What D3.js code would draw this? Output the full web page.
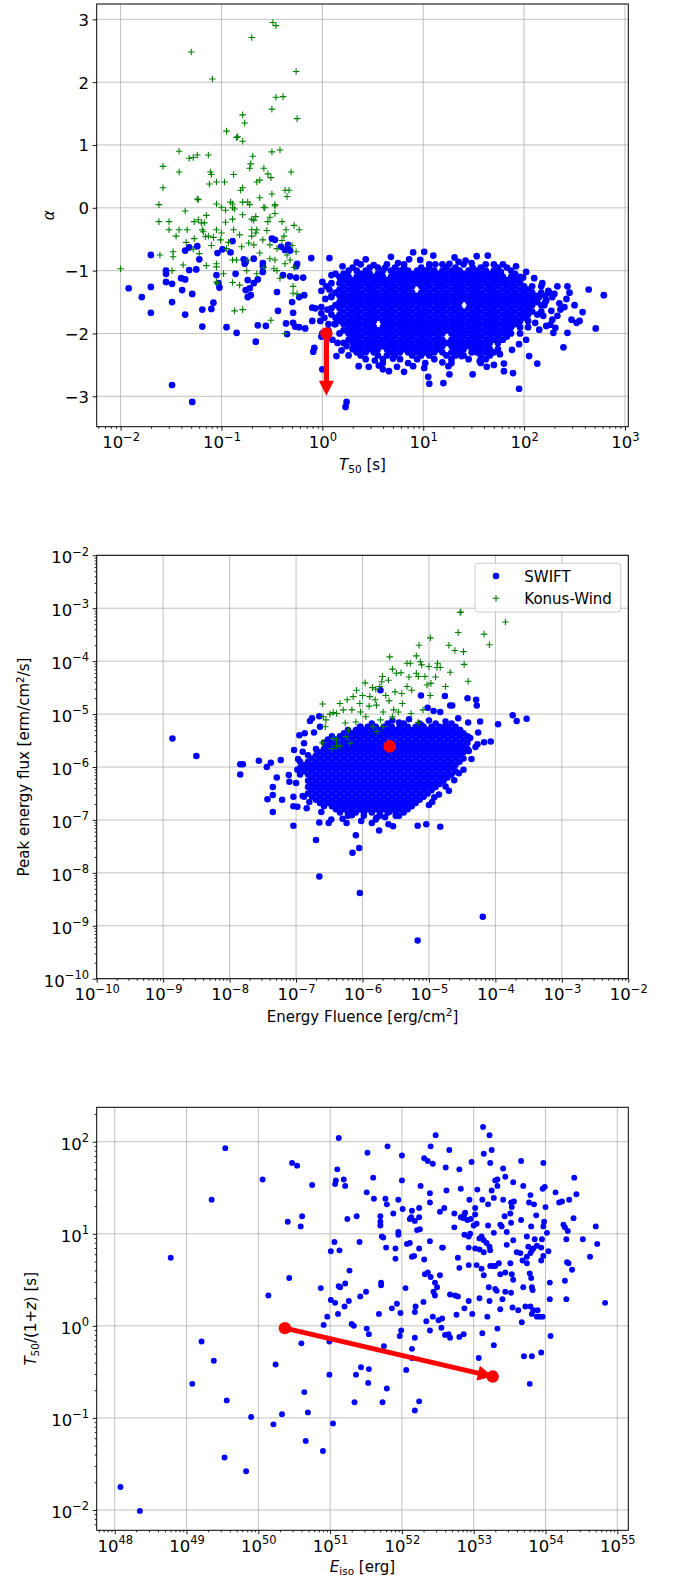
<!DOCTYPE html>
<html>
<head>
<meta charset="utf-8">
<script src="https://cdn.jsdelivr.net/npm/d3@7"></script>
<style>
  body { margin: 0; background: #fff; }
  svg { display: block; }
</style>
</head>
<body>
<svg id="canvas" width="680" height="1577"></svg>
<script>
// ---------------- data ----------------
// panel 1 : [log10 T50, alpha]
const swiftShortP1 = [
  [-1.70,-0.75],[-1.36,-0.68],[-1.32,-0.63],[-1.24,-0.61],[-1.22,-0.82],[-1.04,-0.72],[-0.99,-0.66],[-0.91,-0.71],[-0.89,-0.53],
  [-0.78,-0.82],[-0.76,-0.86],[-0.77,-0.89],[-0.68,-0.81],[-0.59,-0.88],[-0.59,-0.93],[-0.50,-0.49],[-0.47,-0.51],[-0.41,-0.62],
  [-0.37,-0.67],[-0.34,-0.59],[-0.32,-0.68],[-0.25,-0.89],[-0.26,-0.93],[-0.11,-0.80],[0.07,-0.80],
  [-1.55,-1.00],[-1.55,-1.05],[-1.55,-1.18],[-1.92,-1.28],[-1.79,-1.42],[-1.70,-1.26],[-1.70,-1.67],[-1.49,-1.21],[-1.49,-1.50],
  [-1.40,-1.12],[-1.36,-1.14],[-1.39,-1.31],[-1.32,-0.99],[-1.25,-0.98],[-1.29,-1.37],[-1.36,-1.70],[-1.19,-1.62],[-1.19,-1.89],
  [-1.10,-1.61],[-1.08,-1.51],[-1.05,-1.07],[-1.03,-1.20],[-1.02,-1.27],[-0.86,-1.05],[-0.74,-1.15],[-0.76,-1.31],[-0.74,-1.42],
  [-0.71,-1.39],[-0.72,-1.28],[-0.68,-1.20],[-0.64,-1.14],[-0.59,-1.02],[-0.95,-1.90],[-0.85,-1.99],[-0.64,-1.87],[-0.56,-1.88],
  [-0.66,-2.13],[-0.45,-1.34],[-0.44,-1.64],[-0.39,-1.07],[-0.32,-1.09],[-0.26,-1.11],[-0.36,-1.84],[-0.35,-2.01],[-0.29,-1.83],
  [-0.27,-1.89],[-0.30,-1.50],[-0.29,-1.67],[-0.23,-1.42],[-0.23,-1.90],[-0.19,-1.11],[-0.18,-1.39],[-0.17,-1.92],[-0.10,-1.59],
  [-0.07,-1.60],[-0.10,-1.80],[-0.02,-1.80],[-0.01,-1.58],[-0.01,-1.68],[-0.01,-1.32],[0.00,-1.18],[0.07,-1.30],[0.09,-1.42],
  [0.09,-1.07],[0.06,-1.85],[0.12,-1.85],[-0.08,-2.23],[-0.09,-2.29],[0.00,-2.57],[0.14,-2.36],[-1.49,-2.82],[-1.29,-3.09],
  [0.23,-3.17],[0.24,-3.09],[0.00,-2.00],[-0.01,-2.05]
];
const swiftLongEdgeP1 = [
  [0.90,-0.71],[1.01,-0.70],[0.51,-0.91],[0.62,-0.96],[1.26,-0.89],[1.35,-0.86],[1.42,-0.84],[1.53,-0.77],[1.77,-1.02],
  [1.99,-1.11],[2.10,-1.12],[2.33,-1.25],[2.43,-1.25],[2.45,-1.35],[2.64,-1.30],[2.79,-1.39],[2.71,-1.92],[2.55,-1.80],
  [2.52,-1.83],[2.43,-1.99],[2.39,-2.22],[2.29,-1.99],[2.26,-1.86],[2.13,-2.48],[2.05,-2.36],[1.95,-2.88],[1.89,-2.63],
  [1.80,-2.60],[1.80,-2.48],[1.63,-2.53],[1.56,-2.44],[1.49,-2.65],[1.20,-2.79],[1.06,-2.80],[1.05,-2.69],[1.01,-2.55],
  [1.26,-2.65],[0.81,-2.61],[0.74,-2.53],[0.66,-2.60],[0.46,-2.53],[0.36,-2.52],[0.56,-2.51],[0.26,-2.35],[0.19,-2.27],
  [2.15,-1.42],[2.22,-1.47],[2.28,-1.42],[2.35,-1.52],[2.36,-1.62],[2.28,-1.78],[2.22,-1.88],[2.15,-1.94],[2.31,-1.91],[2.47,-1.78],
  [0.20,-0.93],[0.43,-0.82],[0.68,-0.78],[0.75,-0.88],[0.97,-0.83],[1.10,-0.76],[1.31,-0.79],[1.64,-0.76],[1.70,-0.90],
  [1.92,-0.93],[2.02,-1.02],[0.34,-0.87],[0.86,-0.82],[1.12,-0.90],[1.48,-0.88],
  [0.24,-2.20],[0.52,-2.43],[0.70,-2.40],[1.19,-2.46],[1.38,-2.36],[1.48,-2.30],[1.76,-2.33],[1.88,-2.26],[1.95,-2.17],
  [2.02,-2.10],[0.60,-2.57],[1.25,-2.52],[1.70,-2.50],[0.90,-2.52],
  [2.18,-1.20],[2.24,-1.32],[2.30,-1.37],[2.20,-1.55],[2.27,-1.64],[2.40,-1.58],[2.33,-1.72],[2.19,-1.72],[2.11,-1.83],
  [2.42,-1.45],[2.50,-1.55],[2.58,-1.66],
  [0.03,-1.45],[0.05,-1.62],[0.02,-1.75],[0.06,-1.95],[0.10,-2.10],[0.04,-1.25],[0.15,-2.15]
];
// dense core, one row per alpha level: [alpha, log10 T50, log10 T50, ...]
const swiftLongRowsP1 = [
  [-0.90,0.38,0.64,0.81,1.06,1.19,1.40,1.62,1.79],
  [-0.95,0.30,0.47,0.55,0.72,0.81,0.98,1.06,1.23,1.32,1.49,1.57,1.74,1.83],
  [-1.00,0.26,0.34,0.43,0.60,0.68,0.77,0.85,0.94,1.02,1.11,1.19,1.28,1.36,1.45,1.53,1.62,1.70,1.87],
  [-1.05,0.13,0.21,0.38,0.47,0.55,0.72,0.81,0.89,0.98,1.06,1.15,1.23,1.32,1.40,1.49,1.57,1.66,1.74,1.91],
  [-1.10,0.17,0.26,0.34,0.43,0.51,0.60,0.68,0.77,0.85,0.94,1.02,1.11,1.19,1.28,1.36,1.45,1.53,1.62,1.70,1.79,1.87,1.96],
  [-1.15,0.21,0.30,0.38,0.47,0.55,0.64,0.72,0.81,0.89,0.98,1.06,1.15,1.23,1.32,1.40,1.49,1.57,1.66,1.74,1.83,1.91],
  [-1.20,0.09,0.17,0.26,0.34,0.43,0.51,0.60,0.68,0.77,0.85,0.94,1.02,1.11,1.19,1.28,1.36,1.45,1.53,1.62,1.70,1.79,1.87,1.96],
  [-1.25,0.21,0.30,0.38,0.47,0.55,0.64,0.72,0.81,0.89,0.98,1.06,1.15,1.23,1.32,1.40,1.49,1.57,1.66,1.74,1.83,1.91,2.00,2.08,2.17],
  [-1.30,0.17,0.26,0.34,0.43,0.51,0.60,0.68,0.77,0.85,1.02,1.11,1.19,1.28,1.36,1.45,1.53,1.62,1.70,1.79,1.87,1.96,2.04],
  [-1.35,0.13,0.21,0.30,0.38,0.47,0.55,0.64,0.72,0.81,0.89,0.98,1.06,1.15,1.23,1.32,1.40,1.49,1.57,1.66,1.74,1.83,1.91,2.00,2.08,2.17,2.25],
  [-1.40,0.09,0.17,0.26,0.34,0.43,0.51,0.60,0.68,0.77,0.85,0.94,1.02,1.11,1.19,1.28,1.36,1.45,1.53,1.62,1.70,1.79,1.87,1.96,2.04,2.13,2.21],
  [-1.45,0.21,0.30,0.38,0.47,0.55,0.64,0.72,0.81,0.89,0.98,1.06,1.15,1.23,1.32,1.40,1.49,1.57,1.66,1.74,1.83,1.91,2.00,2.08],
  [-1.50,0.17,0.26,0.34,0.43,0.51,0.60,0.68,0.77,0.85,0.94,1.02,1.11,1.19,1.28,1.36,1.45,1.53,1.62,1.70,1.79,1.87,1.96,2.04,2.13,2.21],
  [-1.55,0.13,0.21,0.30,0.38,0.47,0.55,0.64,0.72,0.81,0.89,0.98,1.06,1.15,1.23,1.32,1.49,1.57,1.66,1.74,1.83,1.91,2.00,2.08,2.17],
  [-1.60,0.09,0.17,0.26,0.34,0.43,0.51,0.60,0.68,0.77,0.85,0.94,1.02,1.11,1.19,1.28,1.36,1.45,1.53,1.62,1.70,1.79,1.87,1.96,2.04],
  [-1.65,0.21,0.30,0.38,0.47,0.55,0.64,0.72,0.81,0.89,0.98,1.06,1.15,1.23,1.32,1.40,1.49,1.57,1.66,1.74,1.83,1.91,2.00,2.08,2.17],
  [-1.70,0.09,0.17,0.26,0.34,0.43,0.51,0.60,0.68,0.77,0.85,0.94,1.02,1.11,1.19,1.28,1.36,1.45,1.53,1.62,1.70,1.79,1.87,1.96,2.04,2.13],
  [-1.75,0.13,0.21,0.30,0.38,0.47,0.55,0.64,0.72,0.81,0.89,0.98,1.06,1.15,1.23,1.32,1.40,1.49,1.57,1.66,1.74,1.83,1.91,2.00],
  [-1.80,0.17,0.26,0.34,0.43,0.51,0.60,0.68,0.77,0.85,0.94,1.02,1.11,1.19,1.28,1.36,1.45,1.53,1.62,1.70,1.79,1.87,1.96,2.04],
  [-1.85,0.13,0.21,0.30,0.38,0.47,0.64,0.72,0.81,0.89,0.98,1.06,1.15,1.23,1.32,1.40,1.49,1.57,1.66,1.74,1.83,1.91],
  [-1.90,0.26,0.34,0.43,0.51,0.60,0.68,0.77,0.85,0.94,1.02,1.11,1.19,1.28,1.36,1.45,1.53,1.62,1.70,1.79,1.87,1.96,2.04],
  [-1.95,0.21,0.30,0.38,0.47,0.55,0.64,0.72,0.81,0.89,0.98,1.06,1.15,1.23,1.32,1.40,1.49,1.57,1.66,1.74,1.83],
  [-2.00,0.17,0.26,0.34,0.43,0.51,0.60,0.68,0.77,0.85,0.94,1.02,1.11,1.19,1.28,1.36,1.45,1.53,1.62,1.70,1.79,1.87,1.96],
  [-2.05,0.30,0.38,0.47,0.55,0.64,0.72,0.81,0.89,0.98,1.06,1.15,1.32,1.40,1.49,1.57,1.66,1.74,1.83],
  [-2.10,0.26,0.34,0.43,0.51,0.60,0.68,0.77,0.85,0.94,1.02,1.11,1.19,1.28,1.36,1.45,1.53,1.62,1.70,1.79],
  [-2.15,0.21,0.30,0.38,0.47,0.55,0.64,0.72,0.81,0.89,0.98,1.06,1.15,1.23,1.32,1.40,1.49,1.57,1.66,1.74],
  [-2.20,0.34,0.43,0.51,0.60,0.68,0.77,0.85,0.94,1.02,1.11,1.19,1.28,1.36,1.45,1.53,1.62],
  [-2.25,0.30,0.38,0.47,0.55,0.64,0.72,0.81,0.89,0.98,1.06,1.15,1.32,1.40,1.49,1.57,1.66,1.74],
  [-2.30,0.34,0.43,0.51,0.68,0.77,0.85,0.94,1.02,1.11,1.19,1.28,1.36,1.53,1.62,1.70],
  [-2.35,0.38,0.55,0.64,0.72,0.89,0.98,1.06,1.23,1.32,1.40,1.57,1.66],
  [-2.41,0.43,0.60,0.77,0.94,1.11,1.28,1.45,1.62],
  [-2.47,0.60,0.85,1.02,1.28,1.57]
];
const konusP1 = [
  [-0.49,2.95],[-0.46,2.90],[-0.70,2.71],[-1.30,2.48],[-0.26,2.17],[-1.09,2.05],[-0.46,1.76],[-0.39,1.77],[-0.50,1.57],
  [-0.79,1.48],[-0.77,1.35],[-0.25,1.42],[-0.95,1.22],[-0.85,1.12],[-0.84,1.13],[-0.79,1.06],[-1.42,0.90],[-1.24,0.84],
  [-1.32,0.79],[-1.28,0.80],[-1.13,0.84],[-0.69,0.82],[-0.50,0.89],[-0.42,0.92],[-1.58,0.66],[-1.42,0.57],[-1.11,0.57],
  [-1.10,0.53],[-0.71,0.70],[-0.72,0.63],[-0.58,0.63],[-0.54,0.54],[-0.51,0.48],[-0.31,0.57],[-0.88,0.53],[-1.58,0.32],
  [-1.12,0.38],[-1.05,0.41],[-0.97,0.41],[-0.65,0.41],[-0.62,0.44],[-0.79,0.32],[-0.81,0.28],[-0.37,0.28],[-0.33,0.28],
  [-0.35,0.18],[-1.24,0.14],[-1.23,0.13],[-0.62,0.16],[-0.50,0.22],[-1.62,0.05],[-1.05,0.06],[-0.91,0.09],[-0.89,0.06],
  [-0.79,0.09],[-0.74,0.09],[-0.72,0.05],[-0.47,0.05],[-0.47,0.03],[-0.58,0.01],[-0.57,0.00],[-0.89,0.00],[-0.87,-0.02],
  [-1.00,0.01],[-0.96,-0.04],[-1.36,-0.05],[-0.79,-0.11],[-1.15,-0.12],[-0.70,-0.18],[-0.66,-0.14],[-0.52,-0.15],[-0.47,-0.09],
  [-1.62,-0.22],[-1.52,-0.22],[-1.27,-0.22],[-1.23,-0.19],[-1.20,-0.24],[-1.17,-0.24],[-0.96,-0.23],[-0.89,-0.18],[-0.68,-0.20],
  [-0.54,-0.22],[-0.40,-0.22],[-0.28,-0.28],
  [-1.52,-0.35],[-1.42,-0.35],[-1.34,-0.35],[-1.19,-0.35],[-1.05,-0.35],[-0.88,-0.35],[-0.70,-0.35],[-0.65,-0.35],[-0.36,-0.35],[-0.23,-0.35],
  [-1.27,-0.49],[-1.16,-0.46],[-1.13,-0.45],[-1.08,-0.47],[-1.01,-0.51],[-0.82,-0.43],[-0.73,-0.56],[-0.68,-0.59],[-0.59,-0.51],
  [-0.52,-0.59],[-0.38,-0.45],[-1.28,-0.66],[-1.22,-0.73],[-1.48,-0.70],[-1.61,-0.75],[-1.48,-0.78],[-1.38,-0.91],[-1.15,-0.92],
  [-1.05,-0.89],[-1.05,-0.94],[-0.89,-0.83],[-0.85,-0.83],[-0.74,-0.83],[-0.52,-0.81],[-0.47,-0.83],[-0.37,-0.89],[-0.32,-0.83],
  [-0.28,-0.95],[-0.48,-0.97],[-2.00,-0.97],[-1.49,-1.00],[-1.05,-1.18],[-1.04,-1.20],[-0.89,-1.19],[-0.82,-1.23],[-0.42,-1.12],
  [-0.29,-1.25],[-0.29,-1.36],[-0.25,-1.37],[-0.87,-1.64],[-0.79,-1.62],[-0.51,-1.79],[-0.37,-2.00],
  [-1.18,-0.38],[-1.00,-0.40],[-0.93,-0.55],[-0.80,-0.62],[-0.66,-0.40],[-0.55,-0.36],[-0.45,-0.65],[-0.40,-0.52],[-0.30,-0.60],
  [-0.26,-0.70],[-0.95,-0.65],[-1.10,-0.60],[-1.35,-0.55],[-1.45,-0.45],[-0.62,-0.72],[-0.70,-0.45],[-0.35,-0.75],[-0.58,-0.95],
  [-0.98,-1.05],[-0.75,-1.00],[-0.45,-1.00],[-0.65,-1.05]
];
const p1Special = [0.04, -2.0];     // [log10 T50, alpha]
const p1SpecialTo = -2.99;          // arrow end (alpha)

// panel 2 : [log10 fluence, log10 peak flux]
const swiftOuterP2 = [
  [-8.86,-5.46],[-8.50,-5.79],[-7.84,-5.95],[-7.80,-5.95],[-7.84,-6.14],[-7.56,-5.88],[-7.44,-6.00],[-7.38,-5.92],[-7.23,-5.87],
  [-7.29,-6.20],[-7.11,-6.15],[-7.03,-5.68],[-6.90,-5.71],[-6.88,-5.55],[-6.95,-5.40],[-6.87,-5.36],[-6.79,-5.13],[-6.76,-5.08],
  [-6.65,-5.04],[-6.64,-5.24],[-6.73,-5.35],
  [-7.43,-6.61],[-7.35,-6.38],[-7.35,-6.53],[-7.35,-6.85],[-7.21,-6.62],[-7.10,-6.28],[-7.04,-6.56],[-7.04,-6.74],[-6.98,-6.75],
  [-7.04,-7.11],[-6.88,-6.56],[-6.84,-6.78],[-6.70,-7.38],[-6.65,-7.05],[-6.65,-8.07],[-6.62,-6.85],[-6.51,-7.06],[-6.47,-6.99],
  [-6.24,-7.06],[-6.16,-6.91],[-6.10,-7.29],[-6.15,-7.62],[-6.05,-7.53],[-6.04,-8.38],[-5.86,-7.06],[-5.79,-6.96],[-5.75,-7.20],
  [-5.60,-6.85],[-5.61,-7.08],[-5.54,-7.12],[-5.30,-6.72],[-5.17,-7.11],[-5.04,-7.08],[-4.83,-7.13],[-5.00,-6.72],[-4.92,-6.57],
  [-4.75,-6.37],[-5.17,-9.28],[-4.19,-8.83],
  [-5.73,-4.55],[-5.12,-4.65],[-4.76,-4.66],[-5.02,-4.88],[-4.93,-4.94],[-4.83,-4.96],[-4.68,-4.84],[-4.65,-4.84],[-4.42,-4.70],
  [-4.29,-4.73],[-4.28,-4.84],[-3.96,-5.19],[-3.74,-5.02],[-3.68,-5.13],[-3.53,-5.09],[-4.07,-5.52],[-4.17,-5.53],[-4.27,-5.57],
  [-4.26,-5.35],[-4.23,-5.14],[-4.41,-5.16],[-4.56,-5.08],[-4.53,-5.30],[-4.76,-5.24],[-4.83,-5.30],[-4.98,-5.43],[-5.11,-5.21],
  [-5.45,-5.16],[-5.84,-5.36],[-5.94,-5.43],[-6.03,-5.24],
  [-6.30,-6.98],[-6.02,-7.02],[-5.80,-6.99],[-5.66,-6.95],[-5.45,-6.92],[-4.40,-5.70],[-4.36,-5.85],[-4.48,-6.05],[-4.62,-6.25],
  [-4.70,-6.45],[-4.85,-6.52],[-4.38,-5.45],[-4.30,-5.62],[-4.55,-6.12],[-4.95,-6.66],[-6.98,-6.05],[-7.00,-6.30],[-6.97,-5.85],
  [-6.90,-6.55],[-6.80,-6.66],[-5.30,-5.10],[-5.00,-5.12],[-4.75,-5.14],[-5.55,-5.12]
];
// dense core, one row per flux level: [log10 flux, log10 fluence, ...]
const swiftCoreRowsP2 = [
  [-5.18,-5.86,-5.62,-5.38,-5.14,-4.90,-4.66],
  [-5.24,-6.04,-5.92,-5.80,-5.68,-5.56,-5.44,-5.32,-5.20,-5.08,-4.96,-4.84,-4.72,-4.60],
  [-5.30,-6.22,-6.10,-5.98,-5.86,-5.74,-5.62,-5.50,-5.38,-5.26,-5.14,-5.02,-4.90,-4.78,-4.66,-4.54],
  [-5.36,-6.28,-6.16,-6.04,-5.92,-5.80,-5.68,-5.56,-5.44,-5.32,-5.20,-5.08,-4.96,-4.84,-4.72,-4.60,-4.48],
  [-5.42,-6.46,-6.34,-6.22,-6.10,-5.98,-5.86,-5.74,-5.62,-5.50,-5.38,-5.26,-5.14,-5.02,-4.90,-4.78,-4.66,-4.54,-4.42],
  [-5.48,-6.52,-6.40,-6.28,-6.16,-6.04,-5.92,-5.80,-5.68,-5.56,-5.44,-5.32,-5.20,-5.08,-4.96,-4.84,-4.72,-4.60,-4.48],
  [-5.54,-6.58,-6.46,-6.34,-6.22,-6.10,-5.98,-5.86,-5.74,-5.62,-5.50,-5.38,-5.26,-5.14,-5.02,-4.90,-4.78,-4.66,-4.54,-4.42],
  [-5.60,-6.52,-6.40,-6.28,-6.16,-6.04,-5.92,-5.80,-5.68,-5.56,-5.44,-5.32,-5.20,-5.08,-4.96,-4.84,-4.72,-4.60,-4.48],
  [-5.66,-6.70,-6.58,-6.46,-6.34,-6.22,-6.10,-5.98,-5.86,-5.74,-5.62,-5.50,-5.38,-5.26,-5.14,-5.02,-4.90,-4.78,-4.66,-4.54,-4.42],
  [-5.72,-6.64,-6.52,-6.40,-6.28,-6.16,-6.04,-5.92,-5.80,-5.68,-5.56,-5.44,-5.32,-5.20,-5.08,-4.96,-4.84,-4.72,-4.60,-4.48],
  [-5.78,-6.82,-6.70,-6.58,-6.46,-6.34,-6.22,-6.10,-5.98,-5.86,-5.74,-5.62,-5.50,-5.38,-5.26,-5.14,-5.02,-4.90,-4.78,-4.66,-4.54],
  [-5.84,-6.76,-6.64,-6.52,-6.40,-6.28,-6.16,-6.04,-5.92,-5.80,-5.68,-5.56,-5.44,-5.32,-5.20,-5.08,-4.96,-4.84,-4.72,-4.60,-4.48],
  [-5.90,-6.94,-6.82,-6.70,-6.58,-6.46,-6.34,-6.22,-6.10,-5.98,-5.86,-5.74,-5.62,-5.50,-5.38,-5.26,-5.14,-5.02,-4.90,-4.78,-4.66,-4.54],
  [-5.96,-6.88,-6.76,-6.64,-6.52,-6.40,-6.28,-6.16,-6.04,-5.92,-5.80,-5.68,-5.56,-5.44,-5.32,-5.20,-5.08,-4.96,-4.84,-4.72,-4.60],
  [-6.02,-6.94,-6.82,-6.70,-6.58,-6.46,-6.34,-6.22,-6.10,-5.98,-5.86,-5.74,-5.62,-5.50,-5.38,-5.26,-5.14,-5.02,-4.90,-4.78,-4.66],
  [-6.08,-6.88,-6.76,-6.64,-6.52,-6.40,-6.28,-6.16,-6.04,-5.92,-5.80,-5.68,-5.56,-5.44,-5.32,-5.20,-5.08,-4.96,-4.84,-4.72,-4.60],
  [-6.14,-6.94,-6.82,-6.70,-6.58,-6.46,-6.34,-6.22,-6.10,-5.98,-5.86,-5.74,-5.62,-5.50,-5.38,-5.26,-5.14,-5.02,-4.90,-4.78,-4.66],
  [-6.20,-6.76,-6.64,-6.52,-6.40,-6.28,-6.16,-6.04,-5.92,-5.80,-5.68,-5.56,-5.44,-5.32,-5.20,-5.08,-4.96,-4.84,-4.72],
  [-6.26,-6.82,-6.70,-6.58,-6.46,-6.34,-6.22,-6.10,-5.98,-5.86,-5.74,-5.62,-5.50,-5.38,-5.26,-5.14,-5.02,-4.90,-4.78],
  [-6.32,-6.76,-6.64,-6.52,-6.40,-6.28,-6.16,-6.04,-5.92,-5.80,-5.68,-5.56,-5.44,-5.32,-5.20,-5.08,-4.96,-4.84],
  [-6.38,-6.82,-6.70,-6.58,-6.46,-6.34,-6.22,-6.10,-5.98,-5.86,-5.74,-5.62,-5.50,-5.38,-5.26,-5.14,-5.02,-4.90],
  [-6.44,-6.76,-6.64,-6.52,-6.40,-6.28,-6.16,-6.04,-5.92,-5.80,-5.68,-5.56,-5.44,-5.32,-5.20,-5.08,-4.96],
  [-6.50,-6.82,-6.70,-6.58,-6.46,-6.34,-6.22,-6.10,-5.98,-5.86,-5.74,-5.62,-5.50,-5.38,-5.26,-5.14,-5.02],
  [-6.56,-6.76,-6.64,-6.52,-6.40,-6.28,-6.16,-6.04,-5.92,-5.80,-5.68,-5.56,-5.44,-5.32,-5.20,-5.08],
  [-6.62,-6.70,-6.58,-6.46,-6.34,-6.22,-6.10,-5.98,-5.86,-5.74,-5.62,-5.50,-5.38,-5.26,-5.14],
  [-6.68,-6.64,-6.52,-6.40,-6.28,-6.16,-6.04,-5.92,-5.80,-5.68,-5.56,-5.44,-5.32,-5.20],
  [-6.74,-6.58,-6.46,-6.34,-6.22,-6.10,-5.98,-5.86,-5.74,-5.62,-5.50,-5.38,-5.26],
  [-6.80,-6.40,-6.28,-6.16,-6.04,-5.92,-5.80,-5.68,-5.56,-5.44,-5.32],
  [-6.86,-6.34,-6.22,-6.10,-5.98,-5.86,-5.74,-5.62,-5.50,-5.38],
  [-6.92,-6.22,-5.98,-5.74,-5.50]
];
const konusP2 = [
  [-4.52,-3.07],[-4.53,-3.08],[-3.85,-3.26],[-4.56,-3.46],[-4.17,-3.49],[-4.09,-3.69],[-4.98,-3.56],[-5.15,-3.70],[-4.70,-3.70],
  [-4.61,-3.80],[-4.48,-3.82],[-5.59,-3.92],[-5.19,-3.90],[-5.33,-4.04],[-5.28,-4.04],[-5.13,-4.01],[-5.11,-4.07],[-4.87,-4.04],
  [-4.88,-4.12],[-4.83,-4.12],[-4.47,-4.06],[-5.55,-4.15],[-5.49,-4.23],[-5.42,-4.22],[-5.19,-4.23],[-5.16,-4.29],[-5.06,-4.29],
  [-4.68,-4.21],[-5.70,-4.29],[-5.61,-4.36],[-5.96,-4.41],[-4.41,-4.38],[-4.75,-4.48],[-4.98,-4.65],[-4.97,-4.42],[-5.03,-4.45],
  [-5.33,-4.48],[-5.26,-4.55],[-5.41,-4.61],[-5.51,-4.58],[-5.71,-4.39],[-5.74,-4.48],[-5.80,-4.53],[-6.09,-4.55],[-6.14,-4.67],
  [-6.23,-4.73],[-6.34,-4.80],[-5.89,-4.67],[-5.81,-4.73],[-5.79,-4.83],[-6.04,-4.80],[-6.03,-4.96],[-6.16,-4.92],[-6.29,-4.92],
  [-5.69,-4.96],[-5.53,-4.92],[-5.46,-4.96],[-5.27,-4.99],[-5.09,-4.92],[-5.16,-5.16],[-5.73,-5.11],[-5.84,-5.24],[-5.78,-5.33],
  [-5.69,-5.24],[-6.26,-5.17],[-6.21,-5.30],[-6.25,-5.43],[-6.19,-5.55],[-6.34,-5.60],
  [-6.60,-4.81],[-6.44,-4.97],[-6.59,-5.05],[-6.55,-5.11],[-6.49,-5.00],[-6.39,-4.99],[-6.56,-5.24],[-6.60,-5.54],[-6.44,-5.46],
  [-6.39,-5.49],[-6.39,-5.60],[-6.46,-5.65],
  [-5.90,-4.85],[-5.60,-4.75],[-5.40,-4.80],[-5.95,-5.05],[-6.10,-5.15],[-5.55,-5.05],[-5.85,-4.50],[-5.30,-4.30],[-5.00,-4.10],
  [-4.90,-4.30],[-5.65,-4.65],[-6.00,-4.65]
];
const p2Special = [-5.59, -5.61];   // [log10 fluence, log10 flux]

// panel 3 : [log10 Eiso, log10 T50/(1+z)]
const swiftP3 = [
  [49.54,1.93],[49.35,1.37],[48.78,0.74],[50.06,1.59],[50.47,1.77],[50.54,1.74],[50.75,1.53],[50.41,1.13],[50.61,1.19],
  [50.59,1.08],[50.43,0.52],[50.14,0.33],[50.87,0.41],[51.01,0.28],[51.07,0.25],[50.96,0.10],[50.91,0.01],[51.11,0.13],
  [51.12,0.43],[51.12,2.04],[51.10,1.70],[51.08,1.58],[51.07,1.54],[51.06,0.91],[51.01,0.81],[51.13,0.82],
  [49.21,-0.17],[49.38,-0.38],[49.08,-0.63],[49.56,-0.81],[49.90,-0.99],[49.53,-1.43],[49.83,-1.58],[48.08,-1.75],[48.35,-2.01],
  [50.60,-0.19],[50.24,-0.42],[50.64,-0.72],[50.69,-0.94],[50.33,-0.96],[50.21,-1.07],[50.66,-1.25],[50.90,-1.36],[50.99,-0.53],
  [50.99,-0.17],[51.04,-1.06],
  [53.13,2.16],[52.47,2.07],[53.22,2.07],[51.52,1.88],[51.80,1.95],[52.00,1.85],[52.40,1.95],[52.66,1.91],[53.14,1.87],
  [53.25,1.91],[52.31,1.82],[52.36,1.79],[52.43,1.76],[52.61,1.72],[52.80,1.70],[52.97,1.78],[53.23,1.77],[53.41,1.71],
  [53.66,1.79],[53.97,1.77],[51.60,1.61],[52.00,1.58],[52.26,1.52],[52.39,1.44],[52.62,1.47],[52.82,1.49],[53.05,1.48],
  [53.25,1.47],[53.30,1.58],[53.33,1.59],[53.33,1.52],[53.44,1.62],[53.55,1.56],[53.69,1.52],[53.96,1.49],[53.99,1.51],
  [54.14,1.45],[54.40,1.61],[54.43,1.43],[54.33,1.37],[54.23,1.35],[54.19,1.34],[51.51,1.45],[51.61,1.38],[51.77,1.38],
  [51.79,1.32],[51.95,1.37],[52.01,1.27],[52.14,1.25],[52.24,1.28],[52.39,1.34],[52.53,1.24],[52.59,1.28],[52.73,1.22],
  [52.82,1.18],[52.87,1.21],[52.94,1.37],[53.02,1.28],[53.02,1.21],[53.12,1.37],[53.20,1.32],[53.28,1.39],[53.41,1.37],
  [53.52,1.34],[53.53,1.29],[53.56,1.35],[53.79,1.42],[53.77,1.34],[53.84,1.32],[53.87,1.20],[54.00,1.29],[51.24,1.16],
  [51.37,1.19],[51.70,1.19],[51.70,1.13],[51.70,1.09],[51.88,1.22],[52.11,1.16],[52.13,1.18],[52.18,1.14],[52.24,1.18],
  [52.21,1.04],[52.25,1.05],[51.95,1.02],[51.95,0.99],[51.72,0.97],[51.74,0.96],[52.39,0.92],[52.56,0.85],[52.73,1.07],
  [52.86,1.17],[52.91,1.15],[52.88,1.23],[52.96,1.16],[53.00,1.09],[53.04,1.11],[52.87,0.99],[52.93,0.97],[52.95,1.00],
  [53.08,0.95],[53.11,0.97],[53.14,0.93],[53.20,1.09],[53.28,1.01],[53.37,1.10],[53.39,1.08],[53.43,1.19],[53.46,1.02],
  [53.51,1.22],[53.52,1.12],[53.55,0.93],[53.66,1.15],[53.74,0.97],[53.80,1.08],[53.85,0.94],[53.95,0.94],[53.97,1.08],
  [53.98,1.13],[54.02,1.01],[54.25,1.10],[54.27,1.07],[54.31,1.03],[54.29,0.94],[54.52,0.94],[54.70,1.08],[54.39,1.17],
  [54.72,0.89],[54.62,0.75],[51.41,0.91],[51.78,0.85],[51.91,0.84],[52.07,0.89],[52.11,0.90],[52.24,0.84],[51.91,0.73],
  [52.14,0.75],[52.17,0.76],[52.31,0.72],[52.57,0.85],[52.78,0.74],[52.80,0.63],[52.93,0.85],[52.93,0.66],[53.02,0.84],
  [53.08,0.83],[53.14,0.80],[53.23,0.82],[53.18,0.90],[53.22,0.86],[53.04,0.66],[53.11,0.62],[53.14,0.55],[53.23,0.65],
  [53.27,0.65],[53.30,0.65],[53.35,0.68],[53.37,0.56],[53.44,0.58],[53.46,0.88],[53.51,0.68],[53.53,0.56],[53.55,0.50],
  [53.60,0.80],[53.65,0.79],[53.68,0.71],[53.74,0.75],[53.76,0.86],[53.79,0.79],[53.81,0.82],[53.83,0.84],[53.88,0.87],
  [53.94,0.85],[54.04,0.81],[53.74,0.68],[53.78,0.57],[53.80,0.52],[53.81,0.42],[53.82,0.39],[53.97,0.76],[53.94,0.71],
  [54.30,0.69],[54.32,0.68],[54.37,0.61],[54.06,0.47],[54.06,0.29],[54.27,0.49],[54.29,0.29],[54.83,0.25],[51.27,0.60],
  [51.21,0.46],[51.14,0.42],[51.71,0.47],[51.71,0.44],[52.05,0.41],[52.32,0.56],[52.36,0.58],[52.40,0.53],[52.46,0.47],
  [52.49,0.42],[52.53,0.55],[52.44,0.37],[52.46,0.33],[52.30,0.26],[52.67,0.34],[52.74,0.33],[52.78,0.32],[52.93,0.27],
  [53.08,0.30],[53.22,0.27],[53.21,0.42],[53.30,0.40],[53.32,0.38],[53.44,0.37],[53.52,0.36],[53.40,0.29],[53.69,0.42],
  [51.42,0.32],[51.50,0.37],[51.26,0.27],[51.20,0.21],[51.68,0.13],[51.86,0.19],[51.93,0.24],[51.98,0.14],[52.19,0.21],
  [52.18,0.15],[52.34,0.05],[52.43,0.10],[52.51,0.06],[52.56,0.08],[52.76,0.12],[52.87,0.19],[52.98,0.13],[53.19,0.10],
  [53.37,0.18],[53.54,0.20],[53.62,0.17],[53.72,0.21],[53.79,0.21],[53.81,0.13],[53.83,0.17],[53.89,0.17],[53.88,0.10],
  [53.92,0.10],[53.96,0.10],[53.67,0.04],[51.30,0.02],[51.33,0.00],[51.51,-0.03],[51.54,-0.09],[51.99,-0.05],[51.97,-0.11],
  [52.18,-0.13],[52.39,-0.05],[52.55,-0.02],[52.60,-0.10],[52.65,-0.09],[52.67,-0.13],[52.80,-0.12],[52.86,-0.09],[53.12,-0.08],
  [53.33,-0.03],[54.07,-0.11],[51.19,1.59],[51.21,1.52],
  [51.75,-0.22],[51.36,-0.53],[51.43,-0.45],[51.54,-0.47],[51.53,-0.62],[51.34,-0.83],[51.73,-0.83],[51.79,-0.68],[52.06,-0.48],
  [52.14,-0.25],[52.14,-0.35],[52.24,-0.82],[52.18,-0.92],[53.28,-0.21],[53.07,-0.35],[53.70,-0.33],[53.81,-0.33],[53.94,-0.29],
  [53.78,-0.63]
];
const p3Special = [[50.37, -0.025], [53.265, -0.551]];   // arrow from -> to

const p1XTickExp = [-2, -1, 0, 1, 2, 3];
const p1YTicks = [-3, -2, -1, 0, 1, 2, 3];
const p2TickExp = [-10, -9, -8, -7, -6, -5, -4, -3, -2];
const p3XTickExp = [48, 49, 50, 51, 52, 53, 54, 55];
const p3YTickExp = [-2, -1, 0, 1, 2];
const legendLabels = ['SWIFT', 'Konus-Wind'];

// ---------------- drawing ----------------
const FONT = '"DejaVu Sans", sans-serif';
const left = 96.7, right = 628.3;
const tickFont = 16.5, supFont = 11.5, labelFont = 15;
const BLUE = '#0000ff', GREEN = '#008000', RED = '#ff0000';

let svg = d3.select('#canvas');
let defs = svg.append('defs');

let pow10 = (v) => Math.pow(10, v);
let rowsToPoints = (rows) => rows.flatMap(r => r.slice(1).map(v => [v, r[0]]));

let minorValues = (scale) => {
  let [a, b] = scale.domain();
  let out = [];
  for (let d = Math.floor(Math.log10(a)); d <= Math.ceil(Math.log10(b)); d++) {
    for (let k = 2; k <= 9; k++) {
      let v = k * Math.pow(10, d);
      if (v >= a && v <= b) out.push(v);
    }
  }
  return out;
};

let expLabel = (sel, d) => {
  let e = Math.round(Math.log10(d));
  sel.text('10');
  sel.append('tspan').attr('dy', -7.6).attr('font-size', supFont)
    .text(e < 0 ? '\u2212' + Math.abs(e) : String(e));
};
let plainLabel = (sel, d) => sel.text(d < 0 ? '\u2212' + Math.abs(d) : String(d));

function makePanel(top, bottom, x, y) {
  x.range([left, right]);
  y.range([bottom, top]);
  let id = 'clip' + Math.round(top);
  defs.append('clipPath').attr('id', id).append('rect')
    .attr('x', left).attr('y', top).attr('width', right - left).attr('height', bottom - top);
  let g = svg.append('g');
  let grid = g.append('g');
  let plot = g.append('g').attr('clip-path', `url(#${id})`);
  let over = g.append('g');
  return { g, grid, plot, over, x, y, top, bottom };
}

function drawGrid(p, xVals, yVals) {
  p.grid.selectAll(null).data(xVals).enter().append('line')
    .attr('x1', d => p.x(d)).attr('x2', d => p.x(d))
    .attr('y1', p.top).attr('y2', p.bottom)
    .attr('stroke', '#b0b0b0').attr('stroke-width', 0.8);
  p.grid.selectAll(null).data(yVals).enter().append('line')
    .attr('y1', d => p.y(d)).attr('y2', d => p.y(d))
    .attr('x1', left).attr('x2', right)
    .attr('stroke', '#b0b0b0').attr('stroke-width', 0.8);
}

function drawAxes(p, xMajor, yMajor, xFmt, yFmt, yLabelShift) {
  let gx = p.over.append('g').attr('transform', `translate(0,${p.bottom})`)
    .attr('font-family', FONT).attr('font-size', tickFont);
  if (p.x.base) {
    gx.append('g').call(d3.axisBottom(p.x).tickValues(minorValues(p.x)).tickSize(2)
      .tickSizeOuter(0).tickFormat(() => ''))
      .call(s => s.select('.domain').remove())
      .call(s => s.selectAll('text').remove());
  }
  gx.append('g').call(d3.axisBottom(p.x).tickValues(xMajor).tickSize(4)
    .tickSizeOuter(0).tickFormat(() => ''))
    .call(s => s.select('.domain').remove())
    .attr('font-family', FONT).attr('font-size', tickFont);
  gx.selectAll('.tick line').attr('stroke-width', 0.9);
  gx.selectAll('.tick text').attr('y', 21.5).attr('dy', null).attr('fill', '#000')
    .each(function (d) { xFmt(d3.select(this), d); });

  let gy = p.over.append('g').attr('transform', `translate(${left},0)`)
    .attr('font-family', FONT).attr('font-size', tickFont);
  if (p.y.base) {
    gy.append('g').call(d3.axisLeft(p.y).tickValues(minorValues(p.y)).tickSize(2)
      .tickSizeOuter(0).tickFormat(() => ''))
      .call(s => s.select('.domain').remove())
      .call(s => s.selectAll('text').remove());
  }
  gy.append('g').call(d3.axisLeft(p.y).tickValues(yMajor).tickSize(4)
    .tickSizeOuter(0).tickFormat(() => ''))
    .call(s => s.select('.domain').remove())
    .attr('font-family', FONT).attr('font-size', tickFont);
  gy.selectAll('.tick line').attr('stroke-width', 0.9);
  gy.selectAll('.tick text').attr('x', -7.6).attr('y', yLabelShift).attr('dy', null).attr('fill', '#000')
    .each(function (d) { yFmt(d3.select(this), d); });

  p.over.append('rect').attr('x', left).attr('y', p.top)
    .attr('width', right - left).attr('height', p.bottom - p.top)
    .attr('fill', 'none').attr('stroke', '#000').attr('stroke-width', 1);
}

function dots(p, data, r, color) {
  p.plot.selectAll(null).data(data).enter().append('circle')
    .attr('cx', d => p.x(d[0])).attr('cy', d => p.y(d[1]))
    .attr('r', r).attr('fill', color);
}

function pluses(p, data, h, color) {
  p.plot.selectAll(null).data(data).enter().append('path')
    .attr('d', d => {
      let x = p.x(d[0]), y = p.y(d[1]);
      return `M${x - h},${y}H${x + h}M${x},${y - h}V${y + h}`;
    })
    .attr('stroke', color).attr('stroke-width', 1.1).attr('fill', 'none');
}

function arrow(p, x0, y0, x1, y1, width, headLen, headHalf) {
  let dx = x1 - x0, dy = y1 - y0, len = Math.hypot(dx, dy);
  let ux = dx / len, uy = dy / len, nx = -uy, ny = ux;
  let bx = x1 - ux * headLen, by = y1 - uy * headLen;
  p.plot.append('line').attr('x1', x0).attr('y1', y0).attr('x2', bx + ux).attr('y2', by + uy)
    .attr('stroke', RED).attr('stroke-width', width);
  p.plot.append('path')
    .attr('d', `M${x1},${y1}L${bx + nx * headHalf},${by + ny * headHalf}L${bx - nx * headHalf},${by - ny * headHalf}Z`)
    .attr('fill', RED);
}

function axisLabel(x, y, rotate, parts, size) {
  let t = svg.append('text').attr('font-family', FONT).attr('font-size', size || labelFont)
    .attr('text-anchor', 'middle').attr('fill', '#000')
    .attr('transform', `translate(${x},${y})` + (rotate ? ' rotate(-90)' : ''));
  parts.forEach(pt => {
    let s = t.append('tspan').text(pt.t);
    if (pt.i) s.attr('font-style', 'italic');
    if (pt.dy) s.attr('dy', pt.dy);
    if (pt.fs) s.attr('font-size', pt.fs);
  });
  return t;
}

// ---- panel 1 ----
let p1 = makePanel(4, 426.7,
  d3.scaleLog().domain([pow10(-2.237), pow10(3.033)]),
  d3.scaleLinear().domain([-3.484, 3.244]));
drawGrid(p1, p1XTickExp.map(pow10), p1YTicks);
let toP1 = (d) => [pow10(d[0]), d[1]];
dots(p1, swiftShortP1.map(toP1), 3.35, BLUE);
dots(p1, swiftLongEdgeP1.map(toP1), 3.35, BLUE);
dots(p1, rowsToPoints(swiftLongRowsP1).map(toP1), 3.35, BLUE);
pluses(p1, konusP1.map(toP1), 3.3, GREEN);
{
  let sx = p1.x(pow10(p1Special[0]));
  arrow(p1, sx, p1.y(p1Special[1]), sx, p1.y(p1SpecialTo), 5.2, 15, 7.5);
  p1.plot.append('circle').attr('cx', sx).attr('cy', p1.y(p1Special[1])).attr('r', 6.2).attr('fill', RED);
}
drawAxes(p1, p1XTickExp.map(pow10), p1YTicks, expLabel, plainLabel, 6);
axisLabel(362.5, 469.5, false, [{ t: 'T', i: true }, { t: '50', dy: 3, fs: 10.5 }, { t: ' [s]', dy: -3 }]);
axisLabel(54, 215.3, true, [{ t: '\u03b1', i: true }]);

// ---- panel 2 ----
let p2 = makePanel(555.3, 978.7,
  d3.scaleLog().domain([1e-10, 1e-2]),
  d3.scaleLog().domain([1e-10, 1e-2]));
drawGrid(p2, p2TickExp.map(pow10), p2TickExp.map(pow10));
let toP2 = (d) => [pow10(d[0]), pow10(d[1])];
dots(p2, swiftOuterP2.map(toP2), 3.25, BLUE);
dots(p2, rowsToPoints(swiftCoreRowsP2).map(toP2), 3.25, BLUE);
pluses(p2, konusP2.map(toP2), 3.3, GREEN);
p2.plot.append('circle').attr('cx', p2.x(pow10(p2Special[0]))).attr('cy', p2.y(pow10(p2Special[1])))
  .attr('r', 6.3).attr('fill', RED);
drawAxes(p2, p2TickExp.map(pow10), p2TickExp.map(pow10), expLabel, expLabel, 7.3);
axisLabel(362.5, 1021.5, false, [{ t: 'Energy Fluence [erg/cm' }, { t: '2', dy: -5.5, fs: 10.5 }, { t: ']', dy: 5.5 }]);
axisLabel(29, 767, true, [{ t: 'Peak energy flux [erm/cm' }, { t: '2', dy: -5.5, fs: 10.5 }, { t: '/s]', dy: 5.5 }]);

// legend
{
  let lg = p2.over.append('g');
  lg.append('rect').attr('x', 475).attr('y', 563.3).attr('width', 145.7).attr('height', 48.7)
    .attr('rx', 3).attr('fill', '#fff').attr('fill-opacity', 0.8)
    .attr('stroke', '#cccccc').attr('stroke-width', 1);
  lg.append('circle').attr('cx', 496).attr('cy', 576).attr('r', 3.25).attr('fill', BLUE);
  lg.append('path').attr('d', 'M492.7,598.3H499.3M496,595V601.6').attr('stroke', GREEN).attr('stroke-width', 1.1);
  lg.selectAll(null).data(legendLabels).enter().append('text')
    .attr('x', 524.3).attr('y', (d, i) => 581.5 + i * 22.3)
    .attr('font-family', FONT).attr('font-size', labelFont).attr('fill', '#000')
    .text(d => d);
}

// ---- panel 3 ----
let p3 = makePanel(1107.3, 1530.3,
  d3.scaleLog().domain([pow10(47.749), pow10(55.153)]),
  d3.scaleLog().domain([pow10(-2.221), pow10(2.374)]));
drawGrid(p3, p3XTickExp.map(pow10), p3YTickExp.map(pow10));
let toP3 = (d) => [pow10(d[0]), pow10(d[1])];
dots(p3, swiftP3.map(toP3), 2.95, BLUE);
{
  let a = toP3(p3Special[0]), b = toP3(p3Special[1]);
  let x0 = p3.x(a[0]), y0 = p3.y(a[1]), x1 = p3.x(b[0]), y1 = p3.y(b[1]);
  arrow(p3, x0, y0, x1, y1, 5, 15, 7.5);
  p3.plot.append('circle').attr('cx', x0).attr('cy', y0).attr('r', 6.2).attr('fill', RED);
  p3.plot.append('circle').attr('cx', x1).attr('cy', y1).attr('r', 6.2).attr('fill', RED);
}
drawAxes(p3, p3XTickExp.map(pow10), p3YTickExp.map(pow10), expLabel, expLabel, 7.3);
axisLabel(362.5, 1572, false, [{ t: 'E', i: true }, { t: 'iso', dy: 3, fs: 10.5 }, { t: ' [erg]', dy: -3 }]);
axisLabel(36, 1318.8, true, [{ t: 'T', i: true }, { t: '50', dy: 3, fs: 10.5 }, { t: '/(1+', dy: -3 }, { t: 'z', i: true }, { t: ') [s]' }]);
</script>
</body>
</html>
